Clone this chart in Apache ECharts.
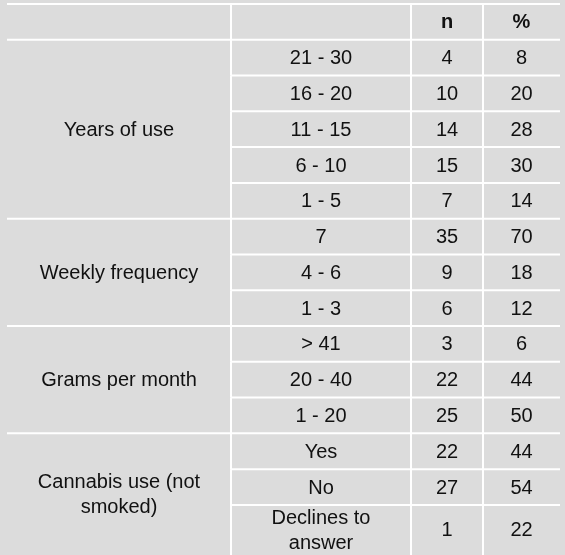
<!DOCTYPE html>
<html><head><meta charset="utf-8">
<script src="https://cdn.jsdelivr.net/npm/echarts@6/dist/echarts.min.js"></script>
<style>html,body{margin:0;padding:0;background:#dcdcdc}#c{width:565px;height:555px}</style>
</head><body><div id="c"></div>
<script>
const headers = ["", "", "n", "%"];
const groups = ["Years of use", "Weekly frequency", "Grams per month", "Cannabis use (not\nsmoked)"];
const groupOf = [0,0,0,0,0,1,1,1,2,2,2,3,3,3];
const categories = ["21 - 30","16 - 20","11 - 15","6 - 10","1 - 5","7","4 - 6","1 - 3","> 41","20 - 40","1 - 20","Yes","No","Declines to\nanswer"];
const nValues = [4,10,14,15,7,35,9,6,3,22,25,22,27,1];
const pctValues = [8,20,28,30,14,70,18,12,6,44,50,44,54,22];

// layout
const colEdges = [7,231,411,483,560];
const rowHeights = [1,1,1,1,1,1,1,1,1,1,1,1,1,1,1.4]; // header + 14 rows
const rowStart=[0]; rowHeights.forEach((h,i)=>rowStart.push(rowStart[i]+h));
const total = rowStart[rowStart.length-1];
const font = '20px "Liberation Sans", Arial, sans-serif';
const textColor = '#111111';

const cells=[];
headers.forEach((h,c)=>cells.push({r0:0,r1:1,c:c,text:h,bold:true,top:true}));
categories.forEach((cat,i)=>{
  const r=i+1;
  cells.push({r0:r,r1:r+1,c:1,text:cat});
  cells.push({r0:r,r1:r+1,c:2,text:String(nValues[i])});
  cells.push({r0:r,r1:r+1,c:3,text:String(pctValues[i])});
});
groups.forEach((g,gi)=>{
  const idx=groupOf.map((v,i)=>v===gi?i:-1).filter(i=>i>=0);
  cells.push({r0:idx[0]+1,r1:idx[idx.length-1]+2,c:0,text:g,group:true});
});
const data = cells.map((c,i)=>[colEdges[c.c],colEdges[c.c+1],rowStart[c.r0],rowStart[c.r1],i]);

const chart = echarts.init(document.getElementById('c'));
chart.setOption({
  animation:false,
  grid:{left:0,right:0,top:4,bottom:0},
  xAxis:{type:'value',min:0,max:565,show:false},
  yAxis:{type:'value',min:0,max:total,inverse:true,show:false},
  series:[{
    type:'custom',
    data:data,
    renderItem:(params,api)=>{
      const p0=api.coord([api.value(0),api.value(2)]);
      const p1=api.coord([api.value(1),api.value(3)]);
      const cell=cells[api.value(4)];
      const ch=[];
      const line={stroke:'#ffffff',lineWidth:2};
      ch.push({type:'line',shape:{x1:p0[0],y1:p0[1],x2:p1[0],y2:p0[1]},style:line});
      if(cell.c>0) ch.push({type:'line',shape:{x1:p0[0],y1:p0[1],x2:p0[0],y2:p1[1]},style:line});
      ch.push({type:'text',style:{text:cell.text,x:(p0[0]+p1[0])/2,y:(p0[1]+p1[1])/2+1,
        align:'center',verticalAlign:'middle',font:(cell.bold?'bold ':'')+font,fill:textColor,lineHeight:25}});
      return {type:'group',children:ch};
    }
  }]
});
</script></body></html>
